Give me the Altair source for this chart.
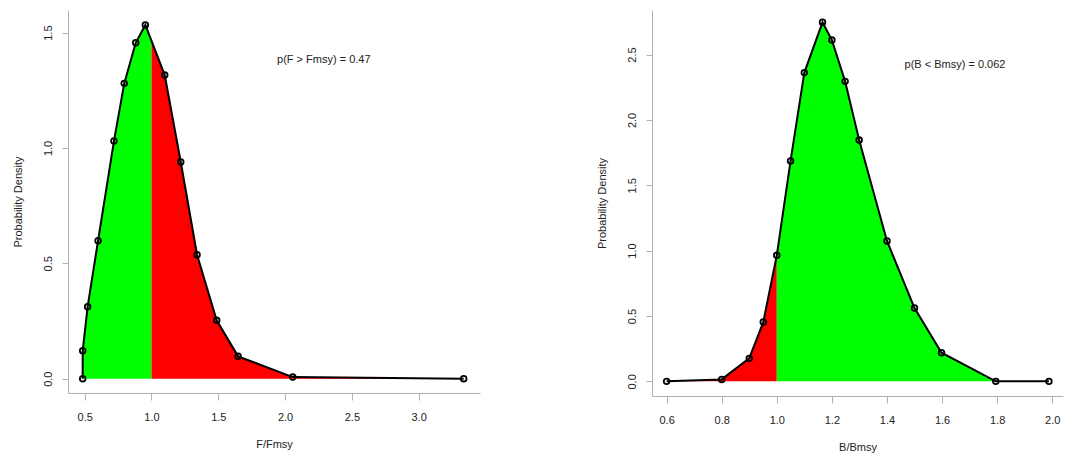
import altair as alt
import numpy as np
import pandas as pd

# ---- data ----
f_x = [0.485, 0.485, 0.522, 0.600, 0.719, 0.796, 0.882, 0.954, 1.099, 1.219, 1.341, 1.488, 1.648, 2.057, 3.337]
f_y = [0.000, 0.121, 0.312, 0.598, 1.030, 1.280, 1.456, 1.533, 1.316, 0.939, 0.537, 0.253, 0.097, 0.007, 0.000]

b_x = [0.600, 0.800, 0.900, 0.951, 1.000, 1.050, 1.100, 1.166, 1.200, 1.248, 1.299, 1.400, 1.500, 1.598, 1.795, 1.988]
b_y = [0.000, 0.015, 0.176, 0.454, 0.964, 1.686, 2.362, 2.747, 2.611, 2.295, 1.846, 1.074, 0.561, 0.219, 0.000, 0.000]

f_ticks = [0.5, 1.0, 1.5, 2.0, 2.5, 3.0]
f_yticks = [0.0, 0.5, 1.0, 1.5]
b_ticks = [0.6, 0.8, 1.0, 1.2, 1.4, 1.6, 1.8, 2.0]
b_yticks = [0.0, 0.5, 1.0, 1.5, 2.0, 2.5]

f_label = "p(F > Fmsy) = 0.47"
b_label = "p(B < Bmsy) = 0.062"
f_label_pos = (2.29, 1.381)
b_label_pos = (1.647, 2.418)

GREEN = "#00FF00"
RED = "#FF0000"
FONT = "Liberation Sans"


def split_fill(xs, ys, cut, low_color, high_color):
    xs = np.asarray(xs, float)
    ys = np.asarray(ys, float)
    ycut = float(np.interp(cut, xs, ys))
    rows = []
    for x, y in zip(xs, ys):
        if x <= cut:
            rows.append({"x": x, "y": y, "part": "low", "col": low_color})
    rows.append({"x": cut, "y": ycut, "part": "low", "col": low_color})
    rows.append({"x": cut, "y": ycut, "part": "high", "col": high_color})
    for x, y in zip(xs, ys):
        if x >= cut:
            rows.append({"x": x, "y": y, "part": "high", "col": high_color})
    return pd.DataFrame(rows)


def panel(xs, ys, low_color, high_color, xdom, ydom, xticks, yticks, xtitle,
          label, label_pos, width, height):
    pts = pd.DataFrame({"x": xs, "y": ys})
    fill = split_fill(xs, ys, 1.0, low_color, high_color)

    xscale = alt.Scale(domain=list(xdom), nice=False, zero=False)
    yscale = alt.Scale(domain=list(ydom), nice=False, zero=False)

    xaxis = alt.Axis(values=xticks, format=".1f", title=xtitle, grid=False,
                     domainColor="#b0b0b0", tickColor="#b0b0b0", tickSize=7,
                     ticks=True, labelFont=FONT, labelFontSize=11,
                     labelColor="#222222", labelPadding=11, titleFont=FONT,
                     titleFontSize=11, titleFontWeight="normal",
                     titleColor="#222222", titlePadding=16, labelFlush=False)
    yaxis = alt.Axis(values=yticks, format=".1f", title="Probability Density",
                     grid=False, domainColor="#b0b0b0", tickColor="#b0b0b0",
                     tickSize=6, ticks=True, labelAngle=270,
                     labelAlign="center", labelBaseline="bottom",
                     labelFont=FONT, labelFontSize=11, labelColor="#222222",
                     labelPadding=9, titleFont=FONT, titleFontSize=11,
                     titleFontWeight="normal", titleColor="#222222",
                     titlePadding=19, labelFlush=False)

    X = alt.X("x:Q", scale=xscale, axis=xaxis)
    Y = alt.Y("y:Q", scale=yscale, axis=yaxis)

    area = alt.Chart(fill).mark_area(opacity=1, interpolate="linear").encode(
        x=X, y=Y, y2=alt.datum(0),
        color=alt.Color("col:N", scale=None, legend=None),
        detail="part:N",
    )
    line = alt.Chart(pts).mark_line(color="black", strokeWidth=2).encode(
        x=X, y=Y)
    dots = alt.Chart(pts).mark_point(shape="circle", filled=False,
                                     color="black", size=32,
                                     strokeWidth=1.8, opacity=1).encode(
        x=X, y=Y)
    txt = alt.Chart(pd.DataFrame({"x": [label_pos[0]], "y": [label_pos[1]],
                                  "t": [label]})).mark_text(
        font=FONT, fontSize=11, color="#222222", align="center",
        baseline="middle").encode(x=X, y=Y, text="t:N")

    return alt.layer(area, line, dots, txt).properties(width=width, height=height)


left = panel(f_x, f_y, GREEN, RED, (0.375, 3.459), (-0.062, 1.598),
             f_ticks, f_yticks, "F/Fmsy", f_label, f_label_pos, 412, 383)
right = panel(b_x, b_y, RED, GREEN, (0.547, 2.039), (-0.112, 2.841),
              b_ticks, b_yticks, "B/Bmsy", b_label, b_label_pos, 411, 386)

chart = alt.hconcat(left, right, spacing=116).properties(
    padding={"left": 4, "top": 2, "right": 2, "bottom": 2},
    background="white",
).configure_view(strokeWidth=0, stroke="transparent")

chart.save("out.html", embed_options={"renderer": "svg", "actions": False})
